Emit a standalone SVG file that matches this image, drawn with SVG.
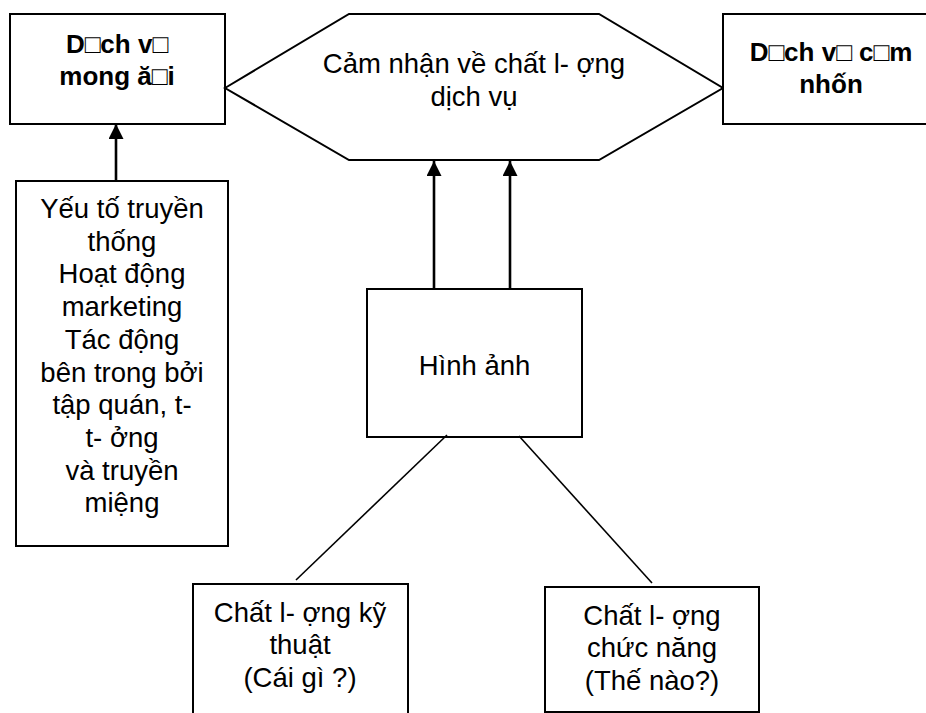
<svg xmlns="http://www.w3.org/2000/svg" width="926" height="713" viewBox="0 0 926 713">
<defs>
<style>
.box{fill:#fff;stroke:#000;stroke-width:2}
.t{font-family:"Liberation Sans",Arial,sans-serif;font-size:27.5px;fill:#000;text-anchor:middle}
.b{font-weight:bold;font-size:26px}
.ln{stroke:#000;stroke-width:1.6;fill:none}
.ar{stroke:#000;stroke-width:2.6;fill:none;marker-end:url(#ah)}
</style>
<marker id="ah" viewBox="0 0 10 10" refX="10" refY="5" markerUnits="userSpaceOnUse" markerWidth="16" markerHeight="15" orient="auto">
<path d="M0,0 L10,5 L0,10 Z" fill="#000"/>
</marker>
</defs>
<rect width="926" height="713" fill="#fff"/>
<g id="expected">
<rect class="box" x="10" y="14" width="215" height="110"/>
<text class="t b" x="117" y="53">D□ch v□</text>
<text class="t b" x="117" y="85">mong ă□i</text>
</g>
<g id="perceived-quality">
<polygon class="box" points="225,88 349,14 599,14 723,88 599,160 349,160"/>
<text class="t" x="474" y="73">Cảm nhận về chất l- ợng</text>
<text class="t" x="474" y="106">dịch vụ</text>
</g>
<g id="experienced">
<rect class="box" x="723" y="14" width="216" height="110"/>
<text class="t b" x="831" y="61">D□ch v□ c□m</text>
<text class="t b" x="831" y="93">nhốn</text>
</g>
<g id="factors">
<rect class="box" x="16" y="181" width="212" height="365"/>
<text class="t" x="122" y="218">Yếu tố truyền</text>
<text class="t" x="122" y="250.7">thống</text>
<text class="t" x="122" y="283.4">Hoạt động</text>
<text class="t" x="122" y="316">marketing</text>
<text class="t" x="122" y="348.8">Tác động</text>
<text class="t" x="122" y="381.5">bên trong bởi</text>
<text class="t" x="122" y="414">tập quán, t-</text>
<text class="t" x="122" y="447">t- ởng</text>
<text class="t" x="122" y="479.6">và truyền</text>
<text class="t" x="122" y="512">miệng</text>
</g>
<g id="image">
<rect class="box" x="367" y="289" width="215" height="148"/>
<text class="t" x="474.5" y="375">Hình ảnh</text>
</g>
<g id="technical">
<rect class="box" x="193" y="584" width="215" height="140"/>
<text class="t" x="300" y="622">Chất l- ợng kỹ</text>
<text class="t" x="300" y="654">thuật</text>
<text class="t" x="300" y="687">(Cái gì ?)</text>
</g>
<g id="functional">
<rect class="box" x="545" y="587" width="214" height="125"/>
<text class="t" x="652" y="625">Chất l- ợng</text>
<text class="t" x="652" y="657">chức năng</text>
<text class="t" x="652" y="690">(Thế nào?)</text>
</g>
<g id="connectors">
<line class="ar" x1="116" y1="181" x2="116" y2="124"/>
<line class="ar" x1="434" y1="289" x2="434" y2="161"/>
<line class="ar" x1="510" y1="289" x2="510" y2="161"/>
<line class="ln" x1="447" y1="435" x2="296" y2="580"/>
<line class="ln" x1="519" y1="436" x2="652" y2="583"/>
</g>
</svg>
